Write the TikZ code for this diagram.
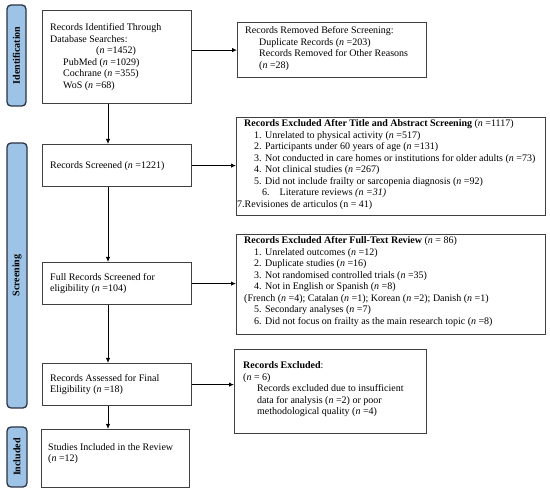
\documentclass[tikz,border=0pt]{standalone}
\usepackage{fontspec}
\setmainfont{Liberation Serif}
\usetikzlibrary{arrows.meta}
\definecolor{boxgray}{HTML}{404040}
\definecolor{sidefill}{HTML}{9DC3E6}
\definecolor{sideline}{HTML}{2B3445}
\newcommand{\nn}{\textit{n}}
\begin{document}
\begin{tikzpicture}[x=1pt,y=-1pt,
  box/.style={draw=boxgray, line width=1.2pt, anchor=north west, inner sep=0pt},
  txt/.style={anchor=west, align=left, inner sep=0pt, font=\fontsize{10}{11.5}\selectfont},
  side/.style={draw=sideline, fill=sidefill, line width=1.3pt, rounded corners=4pt, rotate=90, inner sep=0pt, font=\fontsize{10}{12}\selectfont\bfseries},
  arr/.style={-{Latex[length=5pt,width=4.5pt]}, line width=0.9pt, black}]
\useasboundingbox (0,0) rectangle (550,494);

% side bars
\node[side, minimum width=101pt, minimum height=19pt] (sid) at (16.5,55.5) {Identification};
\node[side, minimum width=265pt, minimum height=20pt] (sscr) at (17,275.5) {Screening};
\node[side, minimum width=60pt, minimum height=20pt] (sinc) at (17,457) {Included};

% boxes
\node[box, minimum width=149pt, minimum height=93pt] (id) at (42,10) {};
\node[box, minimum width=189pt, minimum height=55pt] (rem) at (237,22) {};
\node[box, minimum width=149pt, minimum height=42pt] (scr) at (42,144) {};
\node[box, minimum width=309pt, minimum height=98pt] (ex1) at (236,117) {};
\node[box, minimum width=149pt, minimum height=42pt] (full) at (42,262) {};
\node[box, minimum width=309pt, minimum height=100pt] (ft) at (236,234) {};
\node[box, minimum width=149pt, minimum height=42pt] (ass) at (42,363) {};
\node[box, minimum width=192pt, minimum height=84pt] (exc) at (234,349) {};
\node[box, minimum width=148pt, minimum height=58pt] (st) at (41,429) {};

% texts
\node[txt] (tid) at ([xshift=8pt]id.west) {Records Identified Through\\
Database Searches:\\
\hspace*{46pt}(\nn{} =1452)\\
\hspace*{13pt}PubMed (\nn{} =1029)\\
\hspace*{13pt}Cochrane (\nn{} =355)\\
\hspace*{13pt}WoS (\nn{} =68)};
\node[txt] (trem) at ([xshift=8pt,yshift=1.5pt]rem.west) {Records Removed Before Screening:\\
\hspace*{14pt}Duplicate Records (\nn{} =203)\\
\hspace*{14pt}Records Removed for Other Reasons\\
\hspace*{14pt}(\nn{} =28)};
\node[txt] (tscr) at ([xshift=8pt]scr.west) {Records Screened (\nn{} =1221)};
\node[txt] (tex1) at ([xshift=8pt,yshift=2pt]ex1.west) {\textbf{Records Excluded After Title and Abstract Screening} (\nn{} =1117)\\
\hspace*{10pt}1. Unrelated to physical activity (\nn{} =517)\\
\hspace*{10pt}2. Participants under 60 years of age (\nn{} =131)\\
\hspace*{10pt}3. Not conducted in care homes or institutions for older adults (\nn{} =73)\\
\hspace*{10pt}4. Not clinical studies (\nn{} =267)\\
\hspace*{10pt}5. Did not include frailty or sarcopenia diagnosis (\nn{} =92)\\
\hspace*{18pt}6.\hspace{10pt}Literature reviews \textit{(n =31)}\\
\hspace*{-7pt}7.Revisiones de articulos (n = 41)};
\node[txt] (tfull) at ([xshift=8pt]full.west) {Full Records Screened for\\
eligibility (\nn{} =104)};
\node[txt] (tft) at ([xshift=8pt,yshift=3pt]ft.west) {\textbf{Records Excluded After Full-Text Review} (\nn{} = 86)\\
\hspace*{10pt}1. Unrelated outcomes (\nn{} =12)\\
\hspace*{10pt}2. Duplicate studies (\nn{} =16)\\
\hspace*{10pt}3. Not randomised controlled trials (\nn{} =35)\\
\hspace*{10pt}4. Not in English or Spanish (\nn{} =8)\\
(French (\nn{} =4); Catalan (\nn{} =1); Korean (\nn{} =2); Danish (\nn{} =1)\\
\hspace*{10pt}5. Secondary analyses (\nn{} =7)\\
\hspace*{10pt}6. Did not focus on frailty as the main research topic (\nn{} =8)};
\node[txt] (tass) at ([xshift=8pt]ass.west) {Records Assessed for Final\\
Eligibility (\nn{} =18)};
\node[txt] (texc) at ([xshift=9pt,yshift=2pt]exc.west) {\textbf{Records Excluded}:\\
(\nn{} = 6)\\
\hspace*{14pt}Records excluded due to insufficient\\
\hspace*{14pt}data for analysis (\nn{} =2) or poor\\
\hspace*{14pt}methodological quality (\nn{} =4)};
\node[txt] (tst) at ([xshift=7pt,yshift=5pt]st.west) {Studies Included in the Review\\
(\nn{} =12)};

% connectors
\coordinate (ax) at (108,0);
\draw[arr] (id.south -| ax) -- (scr.north -| ax);
\draw[arr] (scr.south -| ax) -- (full.north -| ax);
\draw[arr] (full.south -| ax) -- (ass.north -| ax);
\draw[arr] (ass.south -| ax) -- (st.north -| ax);
\draw[arr] (rem.west -| id.east) -- (rem.west);
\draw[arr] (scr.east) -- (scr.east -| ex1.west);
\draw[arr] (full.east) -- (full.east -| ft.west);
\draw[arr] (ass.east) -- (ass.east -| exc.west);
\end{tikzpicture}
\end{document}
